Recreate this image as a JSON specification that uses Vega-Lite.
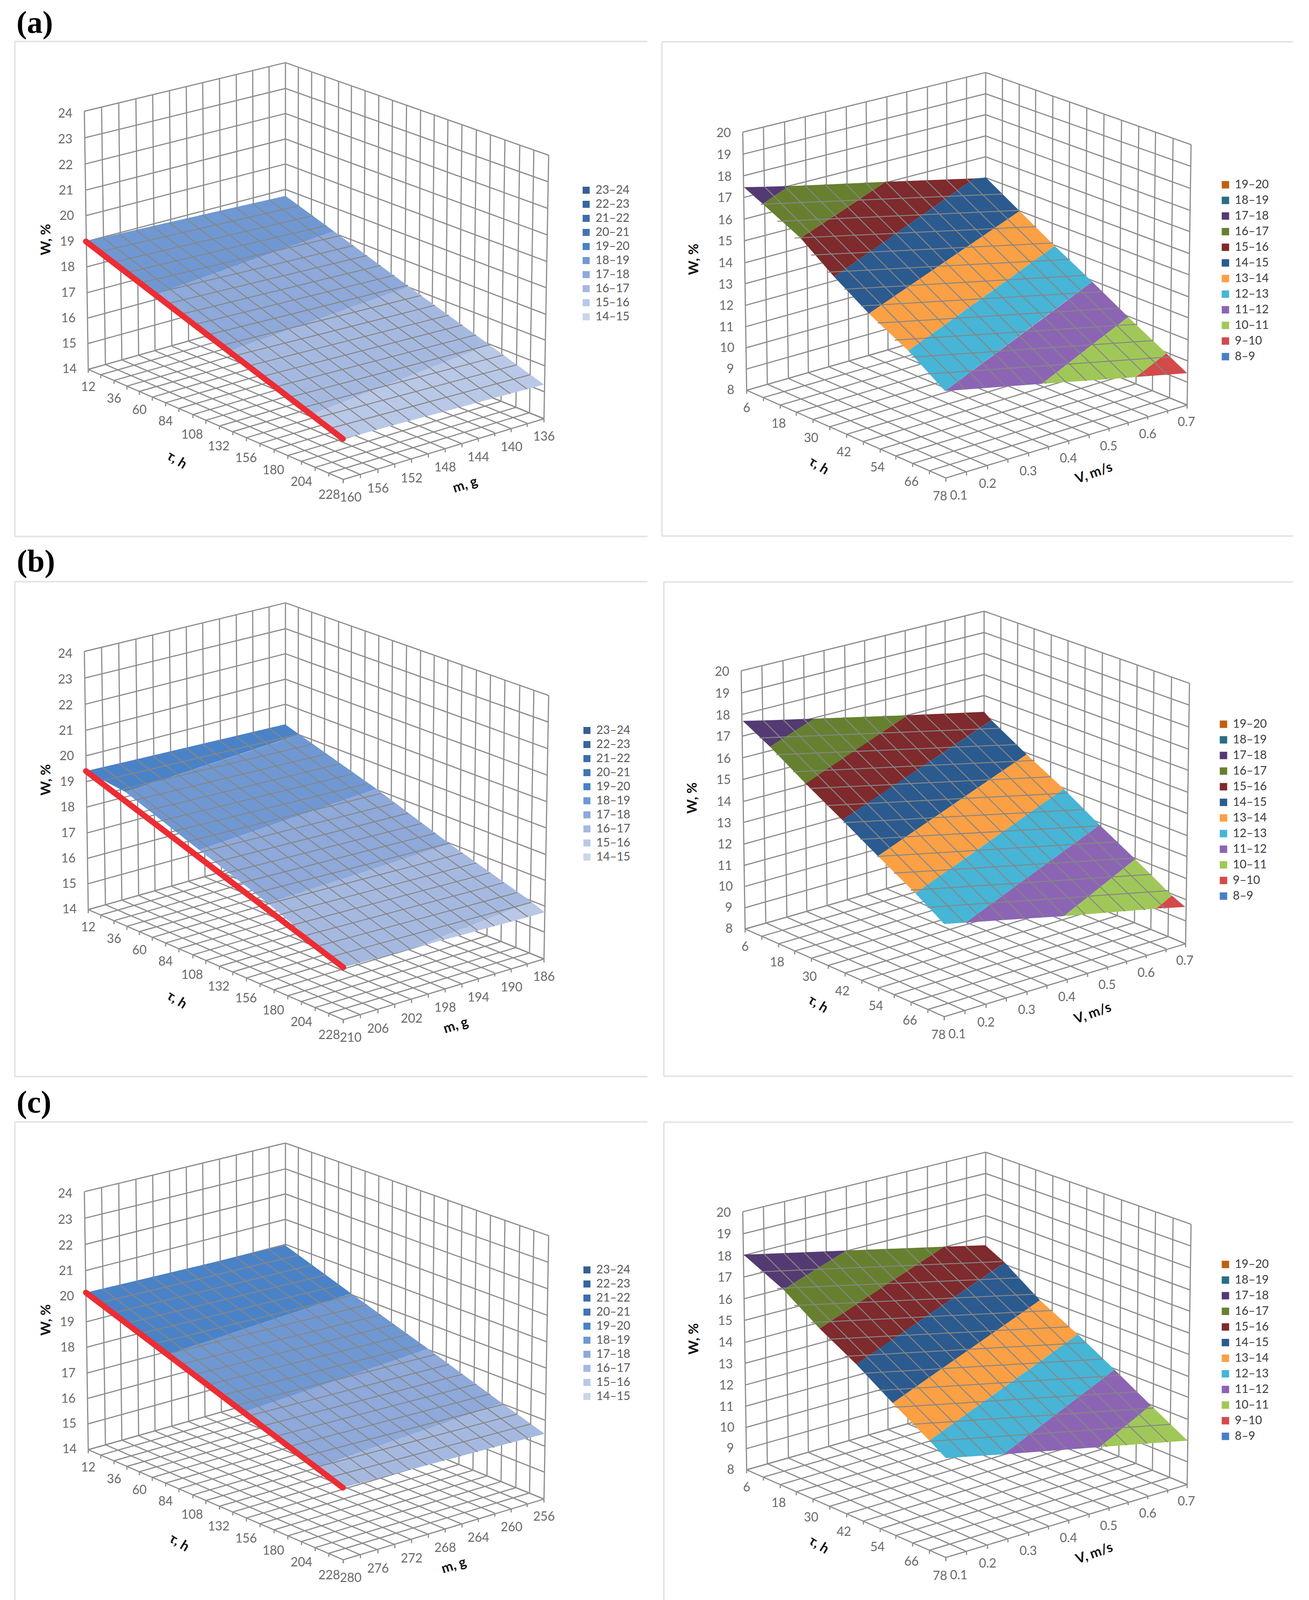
{"$schema":"https://vega.github.io/schema/vega-lite/v6.json","background":"white","padding":0,"columns":2,"spacing":0,"resolve":{"scale":{"color":"independent"},"legend":{"color":"independent"}},
"config":{"view":{"stroke":null},"legend":{"title":null,"orient":"none","symbolType":"square","symbolStrokeWidth":0,"labelFont":"Lato","labelFontSize":30,"labelOffset":9,"rowPadding":0,"padding":0,"labelLimit":200}},
"datasets":{
"fl":[{"a":38,"b":109,"c":1658,"d":109},{"a":38,"b":109,"c":38,"d":1413},{"a":38,"b":1413,"c":1658,"d":1413}],
"fra":[{"a":1695,"b":110,"c":3311,"d":110},{"a":1695,"b":110,"c":1695,"d":1412},{"a":1695,"b":1412,"c":3311,"d":1412}],
"frb":[{"a":1704,"b":114,"c":3315,"d":114},{"a":1704,"b":114,"c":1704,"d":1416},{"a":1704,"b":1416,"c":3315,"d":1416}],
"frc":[{"a":1700,"b":112,"c":3311,"d":112},{"a":1700,"b":112,"c":1700,"d":1371}],
"lw":[{"a":216,"b":293,"c":226,"d":973},{"a":260,"b":282,"c":270,"d":960},{"a":304,"b":271,"c":312,"d":948},{"a":348,"b":260,"c":355,"d":936},{"a":391,"b":250,"c":397,"d":924},{"a":434,"b":239,"c":440,"d":912},{"a":477,"b":228,"c":483,"d":899},{"a":519,"b":218,"c":525,"d":887},{"a":562,"b":207,"c":567,"d":875},{"a":605,"b":196,"c":609,"d":862},{"a":647,"b":186,"c":650,"d":851},{"a":689,"b":175,"c":691,"d":839},{"a":731,"b":165,"c":731,"d":826},
{"a":216,"b":293,"c":731,"d":165},{"a":217,"b":363,"c":731,"d":233},{"a":218,"b":432,"c":731,"d":299},{"a":219,"b":501,"c":731,"d":366},{"a":220,"b":568,"c":731,"d":432},{"a":221,"b":636,"c":731,"d":499},{"a":222,"b":703,"c":731,"d":565},{"a":223,"b":771,"c":731,"d":631},{"a":224,"b":838,"c":731,"d":696},{"a":225,"b":905,"c":731,"d":761},{"a":226,"b":973,"c":731,"d":826},
{"a":764,"b":177,"c":763,"d":839},{"a":798,"b":189,"c":797,"d":854},{"a":832,"b":202,"c":830,"d":868},{"a":867,"b":214,"c":865,"d":882},{"a":900,"b":226,"c":897,"d":895},{"a":935,"b":239,"c":931,"d":910},{"a":970,"b":252,"c":966,"d":924},{"a":1005,"b":264,"c":1000,"d":939},{"a":1041,"b":277,"c":1035,"d":953},{"a":1077,"b":290,"c":1071,"d":968},{"a":1112,"b":303,"c":1105,"d":982},{"a":1147,"b":316,"c":1140,"d":997},{"a":1183,"b":329,"c":1175,"d":1012},{"a":1220,"b":342,"c":1211,"d":1027},{"a":1256,"b":355,"c":1247,"d":1042},{"a":1293,"b":368,"c":1283,"d":1057},{"a":1331,"b":382,"c":1321,"d":1073},{"a":1367,"b":395,"c":1356,"d":1087},{"a":1405,"b":409,"c":1393,"d":1103},
{"a":731,"b":165,"c":1405,"d":409},{"a":731,"b":233,"c":1404,"d":479},{"a":731,"b":299,"c":1403,"d":549},{"a":731,"b":366,"c":1402,"d":619},{"a":731,"b":432,"c":1401,"d":689},{"a":731,"b":499,"c":1399,"d":758},{"a":731,"b":565,"c":1398,"d":828},{"a":731,"b":631,"c":1397,"d":896},{"a":731,"b":696,"c":1396,"d":964},{"a":731,"b":761,"c":1394,"d":1032},{"a":731,"b":826,"c":1393,"d":1103}],
"lf":[{"a":226,"b":973,"c":879,"d":1263},{"a":270,"b":960,"c":923,"d":1250},{"a":312,"b":948,"c":968,"d":1237},{"a":355,"b":936,"c":1011,"d":1223},{"a":397,"b":924,"c":1054,"d":1210},{"a":440,"b":912,"c":1097,"d":1196},{"a":483,"b":899,"c":1140,"d":1182},{"a":525,"b":887,"c":1183,"d":1169},{"a":567,"b":875,"c":1225,"d":1154},{"a":609,"b":862,"c":1267,"d":1140},{"a":650,"b":851,"c":1309,"d":1129},{"a":691,"b":839,"c":1350,"d":1115},{"a":731,"b":826,"c":1393,"d":1103},
{"a":731,"b":826,"c":226,"d":973},{"a":763,"b":839,"c":258,"d":987},{"a":797,"b":854,"c":292,"d":1002},{"a":830,"b":868,"c":325,"d":1017},{"a":865,"b":882,"c":357,"d":1031},{"a":897,"b":895,"c":390,"d":1046},{"a":931,"b":910,"c":424,"d":1061},{"a":966,"b":924,"c":458,"d":1076},{"a":1000,"b":939,"c":494,"d":1092},{"a":1035,"b":953,"c":527,"d":1107},{"a":1071,"b":968,"c":562,"d":1122},{"a":1105,"b":982,"c":596,"d":1137},{"a":1140,"b":997,"c":631,"d":1153},{"a":1175,"b":1012,"c":666,"d":1168},{"a":1211,"b":1027,"c":702,"d":1184},{"a":1247,"b":1042,"c":737,"d":1200},{"a":1283,"b":1057,"c":772,"d":1215},{"a":1321,"b":1073,"c":807,"d":1231},{"a":1356,"b":1087,"c":842,"d":1246},{"a":1393,"b":1103,"c":879,"d":1263}],
"rw":[{"a":1902,"b":348,"c":1912,"d":1028},{"a":1955,"b":335,"c":1965,"d":1012},{"a":2009,"b":321,"c":2019,"d":997},{"a":2062,"b":308,"c":2070,"d":982},{"a":2114,"b":294,"c":2122,"d":966},{"a":2167,"b":281,"c":2174,"d":951},{"a":2218,"b":268,"c":2224,"d":936},{"a":2271,"b":255,"c":2274,"d":922},{"a":2322,"b":242,"c":2325,"d":907},{"a":2375,"b":229,"c":2375,"d":892},{"a":2424,"b":216,"c":2425,"d":877},{"a":2475,"b":203,"c":2475,"d":862},{"a":2524,"b":191,"c":2524,"d":848},
{"a":1902,"b":348,"c":2524,"d":191},{"a":1903,"b":406,"c":2524,"d":247},{"a":1904,"b":463,"c":2524,"d":302},{"a":1905,"b":520,"c":2524,"d":358},{"a":1906,"b":577,"c":2524,"d":413},{"a":1907,"b":634,"c":2524,"d":468},{"a":1908,"b":692,"c":2524,"d":522},{"a":1909,"b":747,"c":2524,"d":576},{"a":1910,"b":804,"c":2524,"d":630},{"a":1911,"b":860,"c":2524,"d":685},{"a":1911,"b":916,"c":2524,"d":739},{"a":1912,"b":972,"c":2524,"d":793},{"a":1912,"b":1028,"c":2524,"d":848},
{"a":2567,"b":207,"c":2566,"d":866},{"a":2610,"b":222,"c":2608,"d":884},{"a":2652,"b":237,"c":2650,"d":901},{"a":2696,"b":253,"c":2693,"d":920},{"a":2739,"b":269,"c":2735,"d":938},{"a":2783,"b":284,"c":2778,"d":956},{"a":2827,"b":300,"c":2821,"d":974},{"a":2872,"b":317,"c":2865,"d":993},{"a":2916,"b":333,"c":2909,"d":1011},{"a":2959,"b":348,"c":2951,"d":1029},{"a":3004,"b":364,"c":2995,"d":1048},{"a":3050,"b":381,"c":3040,"d":1067},
{"a":2524,"b":191,"c":3050,"d":381},{"a":2524,"b":247,"c":3049,"d":438},{"a":2524,"b":302,"c":3048,"d":496},{"a":2524,"b":358,"c":3047,"d":554},{"a":2524,"b":413,"c":3047,"d":610},{"a":2524,"b":468,"c":3046,"d":668},{"a":2524,"b":522,"c":3045,"d":724},{"a":2524,"b":576,"c":3044,"d":782},{"a":2524,"b":630,"c":3043,"d":837},{"a":2524,"b":685,"c":3042,"d":895},{"a":2524,"b":739,"c":3042,"d":951},{"a":2524,"b":793,"c":3041,"d":1007},{"a":2524,"b":848,"c":3040,"d":1067}],
"rf":[{"a":1912,"b":1028,"c":2422,"d":1259},{"a":1965,"b":1012,"c":2475,"d":1243},{"a":2019,"b":997,"c":2529,"d":1227},{"a":2070,"b":982,"c":2581,"d":1210},{"a":2122,"b":966,"c":2634,"d":1193},{"a":2174,"b":951,"c":2685,"d":1176},{"a":2224,"b":936,"c":2737,"d":1161},{"a":2274,"b":922,"c":2789,"d":1145},{"a":2325,"b":907,"c":2840,"d":1127},{"a":2375,"b":892,"c":2889,"d":1112},{"a":2425,"b":877,"c":2939,"d":1096},{"a":2475,"b":862,"c":2990,"d":1080},{"a":2524,"b":848,"c":3040,"d":1067},
{"a":2524,"b":848,"c":1912,"d":1028},{"a":2566,"b":866,"c":1955,"d":1047},{"a":2608,"b":884,"c":1998,"d":1067},{"a":2650,"b":901,"c":2039,"d":1086},{"a":2693,"b":920,"c":2082,"d":1105},{"a":2735,"b":938,"c":2125,"d":1124},{"a":2778,"b":956,"c":2168,"d":1144},{"a":2821,"b":974,"c":2211,"d":1163},{"a":2865,"b":993,"c":2254,"d":1183},{"a":2909,"b":1011,"c":2294,"d":1201},{"a":2951,"b":1029,"c":2337,"d":1221},{"a":2995,"b":1048,"c":2380,"d":1240},{"a":3040,"b":1067,"c":2422,"d":1259}],
"ltl":[{"t":"24","a":167,"b":299},{"t":"23","a":167,"b":367},{"t":"22","a":168,"b":435},{"t":"21","a":169,"b":502},{"t":"20","a":171,"b":569},{"t":"19","a":172,"b":637},{"t":"18","a":173,"b":704},{"t":"17","a":175,"b":772},{"t":"16","a":175,"b":839},{"t":"15","a":177,"b":905},{"t":"14","a":178,"b":972},{"t":"12","a":226,"b":1020},{"t":"36","a":292,"b":1051},{"t":"60","a":357,"b":1080},{"t":"84","a":424,"b":1110},{"t":"108","a":492,"b":1145},{"t":"132","a":560,"b":1176},{"t":"156","a":630,"b":1207},{"t":"180","a":700,"b":1239},{"t":"204","a":772,"b":1270},{"t":"228","a":843,"b":1304}],
"rtl":[{"t":"20","a":1853,"b":351},{"t":"19","a":1854,"b":408},{"t":"18","a":1855,"b":466},{"t":"17","a":1856,"b":522},{"t":"16","a":1857,"b":580},{"t":"15","a":1857,"b":636},{"t":"14","a":1858,"b":693},{"t":"13","a":1858,"b":750},{"t":"12","a":1860,"b":806},{"t":"11","a":1860,"b":862},{"t":"10","a":1862,"b":917},{"t":"9","a":1870,"b":972},{"t":"8","a":1871,"b":1028},{"t":"6","a":1912,"b":1075},{"t":"18","a":1994,"b":1116},{"t":"30","a":2077,"b":1154},{"t":"42","a":2161,"b":1192},{"t":"54","a":2247,"b":1232},{"t":"66","a":2334,"b":1270},{"t":"78","a":2407,"b":1308},{"t":"0.1","a":2455,"b":1306},{"t":"0.2","a":2529,"b":1275},{"t":"0.3","a":2633,"b":1242},{"t":"0.4","a":2736,"b":1208},{"t":"0.5","a":2839,"b":1176},{"t":"0.6","a":2939,"b":1144},{"t":"0.7","a":3038,"b":1112}],
"ma":[{"a":263,"b":626,"c":921,"d":1144},{"a":305,"b":616,"c":964,"d":1132},{"a":348,"b":606,"c":1007,"d":1120},{"a":390,"b":596,"c":1050,"d":1108},{"a":433,"b":586,"c":1093,"d":1097},{"a":476,"b":576,"c":1135,"d":1085},{"a":518,"b":566,"c":1178,"d":1073},{"a":561,"b":556,"c":1221,"d":1061},{"a":603,"b":546,"c":1264,"d":1049},{"a":646,"b":536,"c":1307,"d":1037},{"a":689,"b":526,"c":1350,"d":1025},
{"a":255,"b":663,"c":766,"d":542},{"a":289,"b":691,"c":801,"d":568},{"a":324,"b":718,"c":836,"d":594},{"a":359,"b":745,"c":870,"d":621},{"a":393,"b":773,"c":905,"d":647},{"a":428,"b":800,"c":940,"d":673},{"a":462,"b":828,"c":975,"d":699},{"a":497,"b":855,"c":1010,"d":725},{"a":532,"b":882,"c":1045,"d":751},{"a":566,"b":910,"c":1079,"d":778},{"a":601,"b":937,"c":1114,"d":804},{"a":636,"b":964,"c":1149,"d":830},{"a":670,"b":992,"c":1184,"d":856},{"a":705,"b":1019,"c":1219,"d":882},{"a":739,"b":1047,"c":1254,"d":908},{"a":774,"b":1074,"c":1289,"d":935},{"a":809,"b":1101,"c":1323,"d":961},{"a":843,"b":1129,"c":1358,"d":987}],
"mb":[{"a":263,"b":598,"c":922,"d":1113},{"a":305,"b":588,"c":965,"d":1101},{"a":348,"b":577,"c":1008,"d":1089},{"a":390,"b":567,"c":1051,"d":1077},{"a":433,"b":557,"c":1094,"d":1065},{"a":475,"b":547,"c":1137,"d":1052},{"a":518,"b":536,"c":1180,"d":1040},{"a":560,"b":526,"c":1223,"d":1028},{"a":603,"b":516,"c":1266,"d":1016},{"a":645,"b":506,"c":1309,"d":1004},{"a":688,"b":495,"c":1352,"d":992},
{"a":255,"b":635,"c":765,"d":511},{"a":289,"b":662,"c":800,"d":537},{"a":324,"b":690,"c":835,"d":563},{"a":359,"b":717,"c":870,"d":589},{"a":393,"b":744,"c":905,"d":615},{"a":428,"b":771,"c":940,"d":641},{"a":463,"b":798,"c":975,"d":667},{"a":497,"b":826,"c":1010,"d":693},{"a":532,"b":853,"c":1045,"d":719},{"a":567,"b":880,"c":1080,"d":746},{"a":601,"b":907,"c":1115,"d":772},{"a":636,"b":934,"c":1150,"d":798},{"a":671,"b":962,"c":1185,"d":824},{"a":706,"b":989,"c":1220,"d":850},{"a":740,"b":1016,"c":1255,"d":876},{"a":775,"b":1043,"c":1290,"d":902},{"a":810,"b":1070,"c":1325,"d":928},{"a":844,"b":1098,"c":1360,"d":954}],
"mc":[{"a":263,"b":549,"c":921,"d":1061},{"a":305,"b":538,"c":964,"d":1049},{"a":348,"b":528,"c":1007,"d":1038},{"a":390,"b":517,"c":1050,"d":1026},{"a":433,"b":507,"c":1094,"d":1014},{"a":475,"b":497,"c":1137,"d":1002},{"a":518,"b":486,"c":1180,"d":990},{"a":560,"b":476,"c":1223,"d":979},{"a":603,"b":465,"c":1266,"d":967},{"a":645,"b":455,"c":1309,"d":955},{"a":688,"b":445,"c":1352,"d":943},
{"a":255,"b":586,"c":765,"d":460},{"a":289,"b":613,"c":800,"d":486},{"a":324,"b":640,"c":835,"d":512},{"a":359,"b":667,"c":870,"d":539},{"a":393,"b":694,"c":905,"d":565},{"a":428,"b":721,"c":940,"d":591},{"a":462,"b":748,"c":975,"d":617},{"a":497,"b":775,"c":1010,"d":643},{"a":532,"b":802,"c":1045,"d":669},{"a":566,"b":830,"c":1080,"d":696},{"a":601,"b":857,"c":1115,"d":722},{"a":636,"b":884,"c":1150,"d":748},{"a":670,"b":911,"c":1185,"d":774},{"a":705,"b":938,"c":1220,"d":800},{"a":739,"b":965,"c":1255,"d":826},{"a":774,"b":992,"c":1290,"d":853},{"a":809,"b":1019,"c":1325,"d":879},{"a":843,"b":1046,"c":1360,"d":905}],
"na":[{"a":1957,"b":491,"c":2472,"d":1026},{"a":2008,"b":489,"c":2523,"d":1022},{"a":2060,"b":487,"c":2575,"d":1018},{"a":2112,"b":485,"c":2627,"d":1014},{"a":2164,"b":483,"c":2679,"d":1010},{"a":2215,"b":480,"c":2730,"d":1007},{"a":2267,"b":478,"c":2782,"d":1003},{"a":2319,"b":476,"c":2834,"d":999},{"a":2370,"b":474,"c":2885,"d":995},{"a":2422,"b":472,"c":2937,"d":991},{"a":2474,"b":470,"c":2989,"d":987},
{"a":1948,"b":538,"c":2568,"d":511},{"a":1991,"b":583,"c":2611,"d":554},{"a":2034,"b":627,"c":2654,"d":597},{"a":2077,"b":672,"c":2697,"d":640},{"a":2120,"b":717,"c":2740,"d":683},{"a":2162,"b":762,"c":2782,"d":725},{"a":2205,"b":806,"c":2825,"d":768},{"a":2248,"b":851,"c":2868,"d":811},{"a":2291,"b":896,"c":2911,"d":854},{"a":2334,"b":941,"c":2954,"d":897},{"a":2377,"b":985,"c":2997,"d":940}],
"nb":[{"a":1958,"b":478,"c":2473,"d":1011},{"a":2009,"b":476,"c":2525,"d":1008},{"a":2061,"b":474,"c":2576,"d":1004},{"a":2112,"b":472,"c":2628,"d":1000},{"a":2164,"b":470,"c":2679,"d":996},{"a":2215,"b":468,"c":2730,"d":993},{"a":2267,"b":466,"c":2782,"d":989},{"a":2318,"b":464,"c":2833,"d":985},{"a":2370,"b":462,"c":2885,"d":981},{"a":2421,"b":460,"c":2936,"d":978},{"a":2473,"b":458,"c":2987,"d":974},
{"a":1949,"b":525,"c":2567,"d":499},{"a":1992,"b":569,"c":2610,"d":542},{"a":2035,"b":614,"c":2653,"d":584},{"a":2078,"b":658,"c":2696,"d":627},{"a":2121,"b":703,"c":2739,"d":670},{"a":2164,"b":748,"c":2781,"d":713},{"a":2207,"b":792,"c":2824,"d":756},{"a":2250,"b":837,"c":2867,"d":798},{"a":2293,"b":881,"c":2910,"d":841},{"a":2336,"b":926,"c":2953,"d":884},{"a":2379,"b":971,"c":2996,"d":927}],
"nc":[{"a":1956,"b":459,"c":2474,"d":993},{"a":2007,"b":457,"c":2525,"d":989},{"a":2059,"b":455,"c":2577,"d":986},{"a":2110,"b":453,"c":2628,"d":982},{"a":2162,"b":451,"c":2680,"d":978},{"a":2214,"b":448,"c":2732,"d":974},{"a":2265,"b":446,"c":2783,"d":970},{"a":2317,"b":444,"c":2835,"d":967},{"a":2368,"b":442,"c":2886,"d":963},{"a":2420,"b":440,"c":2938,"d":959},{"a":2472,"b":438,"c":2990,"d":955},
{"a":1947,"b":506,"c":2566,"d":479},{"a":1990,"b":550,"c":2609,"d":522},{"a":2034,"b":595,"c":2653,"d":565},{"a":2077,"b":640,"c":2696,"d":608},{"a":2120,"b":684,"c":2739,"d":651},{"a":2163,"b":729,"c":2782,"d":693},{"a":2206,"b":774,"c":2825,"d":736},{"a":2250,"b":819,"c":2869,"d":779},{"a":2293,"b":863,"c":2912,"d":822},{"a":2336,"b":908,"c":2955,"d":865},{"a":2379,"b":953,"c":2998,"d":908}],
"ba":[{"s":"18–19","a":220,"b":636,"d":636},{"s":"18–19","a":397,"b":594,"d":776},{"s":"18–19","a":731,"b":516,"d":654},{"s":"18–19","a":855,"b":609,"d":609},
{"s":"17–18","a":397,"b":776,"d":776},{"s":"17–18","a":586,"b":707,"d":925},{"s":"17–18","a":855,"b":609,"d":826},{"s":"17–18","a":1047,"b":755,"d":755},
{"s":"16–17","a":586,"b":925,"d":925},{"s":"16–17","a":797,"b":847,"d":1092},{"s":"16–17","a":1047,"b":755,"d":991},{"s":"16–17","a":1253,"b":908,"d":908},
{"s":"15–16","a":797,"b":1092,"d":1092},{"s":"15–16","a":878,"b":1059,"d":1156},{"s":"15–16","a":1253,"b":908,"d":1052},{"s":"15–16","a":1393,"b":1013,"d":1013}],
"bb":[{"s":"19–20","a":220,"b":608,"d":608},{"s":"19–20","a":321,"b":584,"d":663},{"s":"19–20","a":730,"b":485,"d":524},{"s":"19–20","a":767,"b":512,"d":512},
{"s":"18–19","a":321,"b":663,"d":663},{"s":"18–19","a":510,"b":599,"d":816},{"s":"18–19","a":767,"b":512,"d":725},{"s":"18–19","a":964,"b":655,"d":655},
{"s":"17–18","a":510,"b":816,"d":816},{"s":"17–18","a":686,"b":754,"d":956},{"s":"17–18","a":964,"b":655,"d":863},{"s":"17–18","a":1152,"b":800,"d":800},
{"s":"16–17","a":686,"b":956,"d":956},{"s":"16–17","a":879,"b":891,"d":1125},{"s":"16–17","a":1064,"b":829,"d":1073},{"s":"16–17","a":1152,"b":800,"d":1037},{"s":"16–17","a":1361,"b":952,"d":952},
{"s":"15–16","a":1064,"b":1073,"d":1073},{"s":"15–16","a":1361,"b":952,"d":990},{"s":"15–16","a":1395,"b":980,"d":980}],
"bc":[{"s":"19–20","a":220,"b":559,"d":559},{"s":"19–20","a":429,"b":508,"d":722},{"s":"19–20","a":730,"b":434,"d":619},{"s":"19–20","a":899,"b":561,"d":561},
{"s":"18–19","a":429,"b":722,"d":722},{"s":"18–19","a":624,"b":655,"d":874},{"s":"18–19","a":899,"b":561,"d":777},{"s":"18–19","a":1096,"b":707,"d":707},
{"s":"17–18","a":624,"b":874,"d":874},{"s":"17–18","a":810,"b":808,"d":1020},{"s":"17–18","a":1096,"b":707,"d":918},{"s":"17–18","a":1285,"b":850,"d":850},
{"s":"16–17","a":810,"b":1020,"d":1020},{"s":"16–17","a":878,"b":996,"d":1073},{"s":"16–17","a":1285,"b":850,"d":961},{"s":"16–17","a":1395,"b":931,"d":931}],
"ca":[{"s":"17–18","a":1905,"b":493,"d":493},{"s":"17–18","a":1953,"b":492,"d":537},{"s":"17–18","a":2021,"b":490,"d":490},
{"s":"16–17","a":1953,"b":537,"d":537},{"s":"16–17","a":2021,"b":490,"d":600},{"s":"16–17","a":2050,"b":489,"d":627},{"s":"16–17","a":2268,"b":479,"d":479},
{"s":"15–16","a":2050,"b":627,"d":627},{"s":"15–16","a":2136,"b":569,"d":729},{"s":"15–16","a":2268,"b":479,"d":634},{"s":"15–16","a":2495,"b":470,"d":470},
{"s":"14–15","a":2136,"b":729,"d":729},{"s":"14–15","a":2225,"b":665,"d":826},{"s":"14–15","a":2495,"b":470,"d":637},{"s":"14–15","a":2525,"b":468,"d":616},{"s":"14–15","a":2611,"b":556,"d":556},
{"s":"13–14","a":2225,"b":826,"d":826},{"s":"13–14","a":2326,"b":755,"d":924},{"s":"13–14","a":2611,"b":556,"d":714},{"s":"13–14","a":2701,"b":648,"d":648},
{"s":"12–13","a":2326,"b":924,"d":924},{"s":"12–13","a":2420,"b":855,"d":1030},{"s":"12–13","a":2701,"b":648,"d":815},{"s":"12–13","a":2797,"b":742,"d":742},
{"s":"11–12","a":2420,"b":1030,"d":1030},{"s":"11–12","a":2668,"b":841,"d":1011},{"s":"11–12","a":2797,"b":742,"d":908},{"s":"11–12","a":2889,"b":835,"d":835},
{"s":"10–11","a":2668,"b":1011,"d":1011},{"s":"10–11","a":2889,"b":835,"d":995},{"s":"10–11","a":2909,"b":855,"d":993},{"s":"10–11","a":2987,"b":931,"d":931},
{"s":"9–10","a":2909,"b":993,"d":993},{"s":"9–10","a":2987,"b":931,"d":987},{"s":"9–10","a":3040,"b":983,"d":983}],
"cb":[{"s":"17–18","a":1906,"b":480,"d":480},{"s":"17–18","a":1976,"b":478,"d":548},{"s":"17–18","a":2089,"b":474,"d":474},
{"s":"16–17","a":1976,"b":548,"d":548},{"s":"16–17","a":2067,"b":488,"d":645},{"s":"16–17","a":2089,"b":474,"d":630},{"s":"16–17","a":2328,"b":465,"d":465},
{"s":"15–16","a":2067,"b":645,"d":645},{"s":"15–16","a":2161,"b":580,"d":741},{"s":"15–16","a":2328,"b":465,"d":626},{"s":"15–16","a":2524,"b":456,"d":491},{"s":"15–16","a":2543,"b":478,"d":478},
{"s":"14–15","a":2161,"b":741,"d":741},{"s":"14–15","a":2252,"b":678,"d":836},{"s":"14–15","a":2543,"b":478,"d":631},{"s":"14–15","a":2633,"b":568,"d":568},
{"s":"13–14","a":2252,"b":836,"d":836},{"s":"13–14","a":2348,"b":768,"d":934},{"s":"13–14","a":2633,"b":568,"d":728},{"s":"13–14","a":2728,"b":659,"d":659},
{"s":"12–13","a":2348,"b":934,"d":934},{"s":"12–13","a":2422,"b":880,"d":1015},{"s":"12–13","a":2477,"b":841,"d":1011},{"s":"12–13","a":2728,"b":659,"d":823},{"s":"12–13","a":2820,"b":754,"d":754},
{"s":"11–12","a":2477,"b":1011,"d":1011},{"s":"11–12","a":2728,"b":823,"d":994},{"s":"11–12","a":2820,"b":754,"d":919},{"s":"11–12","a":2911,"b":844,"d":844},
{"s":"10–11","a":2728,"b":994,"d":994},{"s":"10–11","a":2911,"b":844,"d":979},{"s":"10–11","a":2965,"b":899,"d":974},{"s":"10–11","a":3005,"b":940,"d":940},
{"s":"9–10","a":2965,"b":974,"d":974},{"s":"9–10","a":3005,"b":940,"d":972},{"s":"9–10","a":3039,"b":970,"d":970}],
"cc":[{"s":"17–18","a":1904,"b":461,"d":461},{"s":"17–18","a":2006,"b":457,"d":553},{"s":"17–18","a":2168,"b":450,"d":450},
{"s":"16–17","a":2006,"b":553,"d":553},{"s":"16–17","a":2099,"b":494,"d":656},{"s":"16–17","a":2168,"b":450,"d":609},{"s":"16–17","a":2418,"b":440,"d":440},
{"s":"15–16","a":2099,"b":656,"d":656},{"s":"15–16","a":2193,"b":592,"d":750},{"s":"15–16","a":2418,"b":440,"d":591},{"s":"15–16","a":2523,"b":436,"d":517},{"s":"15–16","a":2573,"b":482,"d":482},
{"s":"14–15","a":2193,"b":750,"d":750},{"s":"14–15","a":2286,"b":684,"d":852},{"s":"14–15","a":2573,"b":482,"d":646},{"s":"14–15","a":2663,"b":581,"d":581},
{"s":"13–14","a":2286,"b":852,"d":852},{"s":"13–14","a":2380,"b":784,"d":951},{"s":"13–14","a":2663,"b":581,"d":742},{"s":"13–14","a":2760,"b":671,"d":671},
{"s":"12–13","a":2380,"b":951,"d":951},{"s":"12–13","a":2422,"b":920,"d":997},{"s":"12–13","a":2570,"b":811,"d":987},{"s":"12–13","a":2760,"b":671,"d":838},{"s":"12–13","a":2854,"b":764,"d":764},
{"s":"11–12","a":2570,"b":987,"d":987},{"s":"11–12","a":2816,"b":794,"d":968},{"s":"11–12","a":2854,"b":764,"d":936},{"s":"11–12","a":2947,"b":858,"d":858},
{"s":"10–11","a":2816,"b":968,"d":968},{"s":"10–11","a":2947,"b":858,"d":958},{"s":"10–11","a":3041,"b":951,"d":951}]
},
"concat":[
{"width":1690,"height":1383,"encoding":{"x":{"field":"a","type":"quantitative","axis":null,"scale":{"domain":[0,1690],"nice":false}},"y":{"field":"b","type":"quantitative","axis":null,"scale":{"domain":[0,1423],"reverse":true,"nice":false}}},
"layer":[
{"data":{"name":"fl"},"mark":{"type":"rule","stroke":"#e4e4e4","strokeWidth":4},"encoding":{"x2":{"field":"c"},"y2":{"field":"d"}}},
{"data":{"name":"lw"},"mark":{"type":"rule","stroke":"#8c8c8c","strokeWidth":3},"encoding":{"x2":{"field":"c"},"y2":{"field":"d"}}},
{"data":{"name":"lf"},"mark":{"type":"rule","stroke":"#8c8c8c","strokeWidth":3},"encoding":{"x2":{"field":"c"},"y2":{"field":"d"}}},
{"data":{"name":"lf"},"mark":{"type":"point","shape":"M0,0L0,1","filled":false,"stroke":"#8c8c8c","strokeWidth":3,"size":324,"opacity":1},"encoding":{"x":{"field":"c","type":"quantitative"},"y":{"field":"d","type":"quantitative"}}},
{"data":{"name":"ba"},"mark":{"type":"area","orient":"vertical"},"encoding":{"y2":{"field":"d"},"color":{"field":"s","type":"nominal","scale":{"domain":["23–24","22–23","21–22","20–21","19–20","18–19","17–18","16–17","15–16","14–15"],"range":["#365f91","#38669e","#3d6dad","#4474b1","#4a82c8","#6f98d3","#8ea9da","#a5b9e0","#b9c8e7","#c9d5e9"]},"legend":{"legendX":1486,"legendY":469,"symbolSize":324,"clipHeight":36,"labelColor":"#595959"}}}},
{"data":{"name":"ma"},"mark":{"type":"rule","stroke":"#868686","strokeWidth":2.5},"encoding":{"x2":{"field":"c"},"y2":{"field":"d"}}},
{"data":{"values":[{"a":220,"b":636,"c":878,"d":1156}]},"mark":{"type":"rule","stroke":"#ec2d33","strokeWidth":15,"strokeCap":"round"},"encoding":{"x2":{"field":"c"},"y2":{"field":"d"}}},
{"data":{"name":"ltl"},"mark":{"type":"text","font":"Lato","fontSize":32,"fill":"#6a6a6a"},"encoding":{"text":{"field":"t"}}},
{"data":{"values":[{"t":"160","a":898,"b":1311},{"t":"156","a":968,"b":1287},{"t":"152","a":1054,"b":1260},{"t":"148","a":1140,"b":1232},{"t":"144","a":1225,"b":1205},{"t":"140","a":1310,"b":1178},{"t":"136","a":1393,"b":1150}]},"mark":{"type":"text","font":"Lato","fontSize":32,"fill":"#6a6a6a"},"encoding":{"text":{"field":"t"}}},
{"data":{"values":[{"t":"W, %","a":118,"b":631,"r":270},{"t":"τ, h","a":453,"b":1212,"r":32},{"t":"m, g","a":1191,"b":1277,"r":342}]},"mark":{"type":"text","font":"Lato","fontWeight":"bold","fontSize":35,"fill":"#111111"},"encoding":{"text":{"field":"t"},"angle":{"field":"r","type":"quantitative","scale":null}}},
{"data":{"values":[{"t":"(a)","a":89,"b":62}]},"mark":{"type":"text","font":"Liberation Serif","fontWeight":"bold","fontSize":80,"fill":"#000000"},"encoding":{"text":{"field":"t"}}}
]},
{"width":1662,"height":1383,"encoding":{"x":{"field":"a","type":"quantitative","axis":null,"scale":{"domain":[1690,3352],"nice":false}},"y":{"field":"b","type":"quantitative","axis":null,"scale":{"domain":[0,1423],"reverse":true,"nice":false}}},
"layer":[
{"data":{"name":"fra"},"mark":{"type":"rule","stroke":"#e4e4e4","strokeWidth":4},"encoding":{"x2":{"field":"c"},"y2":{"field":"d"}}},
{"data":{"name":"rw"},"mark":{"type":"rule","stroke":"#8c8c8c","strokeWidth":3},"encoding":{"x2":{"field":"c"},"y2":{"field":"d"}}},
{"data":{"name":"rf"},"mark":{"type":"rule","stroke":"#8c8c8c","strokeWidth":3},"encoding":{"x2":{"field":"c"},"y2":{"field":"d"}}},
{"data":{"name":"rf"},"mark":{"type":"point","shape":"M0,0L0,1","filled":false,"stroke":"#8c8c8c","strokeWidth":3,"size":324,"opacity":1},"encoding":{"x":{"field":"c","type":"quantitative"},"y":{"field":"d","type":"quantitative"}}},
{"data":{"name":"ca"},"mark":{"type":"area","orient":"vertical"},"encoding":{"y2":{"field":"d"},"color":{"field":"s","type":"nominal","scale":{"domain":["19–20","18–19","17–18","16–17","15–16","14–15","13–14","12–13","11–12","10–11","9–10","8–9"],"range":["#c0600f","#2a6f82","#543a72","#66802f","#7f2a2c","#2b5a8f","#fba045","#47b5d6","#8c64b4","#a0c858","#d34a4a","#4a7fc4"]},"legend":{"legendX":1433,"legendY":453,"symbolSize":361,"clipHeight":40,"labelColor":"#3c3c3c"}}}},
{"data":{"name":"na"},"mark":{"type":"rule","stroke":"#868686","strokeWidth":2.5},"encoding":{"x2":{"field":"c"},"y2":{"field":"d"}}},
{"data":{"name":"rtl"},"mark":{"type":"text","font":"Lato","fontSize":32,"fill":"#6a6a6a"},"encoding":{"text":{"field":"t"}}},
{"data":{"values":[{"t":"W, %","a":1777,"b":683,"r":270},{"t":"τ, h","a":2097,"b":1227,"r":32},{"t":"V, m/s","a":2801,"b":1246,"r":340}]},"mark":{"type":"text","font":"Lato","fontWeight":"bold","fontSize":35,"fill":"#111111"},"encoding":{"text":{"field":"t"},"angle":{"field":"r","type":"quantitative","scale":null}}}
]},
{"width":1690,"height":1383,"encoding":{"x":{"field":"a","type":"quantitative","axis":null,"scale":{"domain":[0,1690],"nice":false}},"y":{"field":"b","type":"quantitative","axis":null,"scale":{"domain":[0,1423],"reverse":true,"nice":false}}},
"layer":[
{"data":{"name":"fl"},"mark":{"type":"rule","stroke":"#e4e4e4","strokeWidth":4},"encoding":{"x2":{"field":"c"},"y2":{"field":"d"}}},
{"data":{"name":"lw"},"mark":{"type":"rule","stroke":"#8c8c8c","strokeWidth":3},"encoding":{"x2":{"field":"c"},"y2":{"field":"d"}}},
{"data":{"name":"lf"},"mark":{"type":"rule","stroke":"#8c8c8c","strokeWidth":3},"encoding":{"x2":{"field":"c"},"y2":{"field":"d"}}},
{"data":{"name":"lf"},"mark":{"type":"point","shape":"M0,0L0,1","filled":false,"stroke":"#8c8c8c","strokeWidth":3,"size":324,"opacity":1},"encoding":{"x":{"field":"c","type":"quantitative"},"y":{"field":"d","type":"quantitative"}}},
{"data":{"name":"bb"},"mark":{"type":"area","orient":"vertical"},"encoding":{"y2":{"field":"d"},"color":{"field":"s","type":"nominal","scale":{"domain":["23–24","22–23","21–22","20–21","19–20","18–19","17–18","16–17","15–16","14–15"],"range":["#365f91","#38669e","#3d6dad","#4474b1","#4a82c8","#6f98d3","#8ea9da","#a5b9e0","#b9c8e7","#c9d5e9"]},"legend":{"legendX":1488,"legendY":469,"symbolSize":324,"clipHeight":36,"labelColor":"#595959"}}}},
{"data":{"name":"mb"},"mark":{"type":"rule","stroke":"#868686","strokeWidth":2.5},"encoding":{"x2":{"field":"c"},"y2":{"field":"d"}}},
{"data":{"values":[{"a":220,"b":608,"c":879,"d":1125}]},"mark":{"type":"rule","stroke":"#ec2d33","strokeWidth":15,"strokeCap":"round"},"encoding":{"x2":{"field":"c"},"y2":{"field":"d"}}},
{"data":{"name":"ltl"},"mark":{"type":"text","font":"Lato","fontSize":32,"fill":"#6a6a6a"},"encoding":{"text":{"field":"t"}}},
{"data":{"values":[{"t":"210","a":898,"b":1311},{"t":"206","a":968,"b":1287},{"t":"202","a":1054,"b":1260},{"t":"198","a":1140,"b":1232},{"t":"194","a":1225,"b":1205},{"t":"190","a":1310,"b":1178},{"t":"186","a":1393,"b":1150}]},"mark":{"type":"text","font":"Lato","fontSize":32,"fill":"#6a6a6a"},"encoding":{"text":{"field":"t"}}},
{"data":{"values":[{"t":"W, %","a":118,"b":631,"r":270},{"t":"τ, h","a":453,"b":1211,"r":32},{"t":"m, g","a":1167,"b":1278,"r":342}]},"mark":{"type":"text","font":"Lato","fontWeight":"bold","fontSize":35,"fill":"#111111"},"encoding":{"text":{"field":"t"},"angle":{"field":"r","type":"quantitative","scale":null}}},
{"data":{"values":[{"t":"(b)","a":92,"b":58}]},"mark":{"type":"text","font":"Liberation Serif","fontWeight":"bold","fontSize":80,"fill":"#000000"},"encoding":{"text":{"field":"t"}}}
]},
{"width":1662,"height":1383,"encoding":{"x":{"field":"a","type":"quantitative","axis":null,"scale":{"domain":[1694,3356],"nice":false}},"y":{"field":"b","type":"quantitative","axis":null,"scale":{"domain":[4,1427],"reverse":true,"nice":false}}},
"layer":[
{"data":{"name":"frb"},"mark":{"type":"rule","stroke":"#e4e4e4","strokeWidth":4},"encoding":{"x2":{"field":"c"},"y2":{"field":"d"}}},
{"data":{"name":"rw"},"mark":{"type":"rule","stroke":"#8c8c8c","strokeWidth":3},"encoding":{"x2":{"field":"c"},"y2":{"field":"d"}}},
{"data":{"name":"rf"},"mark":{"type":"rule","stroke":"#8c8c8c","strokeWidth":3},"encoding":{"x2":{"field":"c"},"y2":{"field":"d"}}},
{"data":{"name":"rf"},"mark":{"type":"point","shape":"M0,0L0,1","filled":false,"stroke":"#8c8c8c","strokeWidth":3,"size":324,"opacity":1},"encoding":{"x":{"field":"c","type":"quantitative"},"y":{"field":"d","type":"quantitative"}}},
{"data":{"name":"cb"},"mark":{"type":"area","orient":"vertical"},"encoding":{"y2":{"field":"d"},"color":{"field":"s","type":"nominal","scale":{"domain":["19–20","18–19","17–18","16–17","15–16","14–15","13–14","12–13","11–12","10–11","9–10","8–9"],"range":["#c0600f","#2a6f82","#543a72","#66802f","#7f2a2c","#2b5a8f","#fba045","#47b5d6","#8c64b4","#a0c858","#d34a4a","#4a7fc4"]},"legend":{"legendX":1428,"legendY":451,"symbolSize":361,"clipHeight":40,"labelColor":"#3c3c3c"}}}},
{"data":{"name":"nb"},"mark":{"type":"rule","stroke":"#868686","strokeWidth":2.5},"encoding":{"x2":{"field":"c"},"y2":{"field":"d"}}},
{"data":{"name":"rtl"},"mark":{"type":"text","font":"Lato","fontSize":32,"fill":"#6a6a6a"},"encoding":{"text":{"field":"t"}}},
{"data":{"values":[{"t":"W, %","a":1777,"b":683,"r":270},{"t":"τ, h","a":2099,"b":1226,"r":32},{"t":"V, m/s","a":2802,"b":1250,"r":340}]},"mark":{"type":"text","font":"Lato","fontWeight":"bold","fontSize":35,"fill":"#111111"},"encoding":{"text":{"field":"t"},"angle":{"field":"r","type":"quantitative","scale":null}}}
]},
{"width":1690,"height":1330,"encoding":{"x":{"field":"a","type":"quantitative","axis":null,"scale":{"domain":[0,1690],"nice":false}},"y":{"field":"b","type":"quantitative","axis":null,"scale":{"domain":[0,1369],"reverse":true,"nice":false}}},
"layer":[
{"data":{"values":[{"a":38,"b":109,"c":1658,"d":109},{"a":38,"b":109,"c":38,"d":1369}]},"mark":{"type":"rule","stroke":"#e4e4e4","strokeWidth":4},"encoding":{"x2":{"field":"c"},"y2":{"field":"d"}}},
{"data":{"name":"lw"},"mark":{"type":"rule","stroke":"#8c8c8c","strokeWidth":3},"encoding":{"x2":{"field":"c"},"y2":{"field":"d"}}},
{"data":{"name":"lf"},"mark":{"type":"rule","stroke":"#8c8c8c","strokeWidth":3},"encoding":{"x2":{"field":"c"},"y2":{"field":"d"}}},
{"data":{"name":"lf"},"mark":{"type":"point","shape":"M0,0L0,1","filled":false,"stroke":"#8c8c8c","strokeWidth":3,"size":324,"opacity":1},"encoding":{"x":{"field":"c","type":"quantitative"},"y":{"field":"d","type":"quantitative"}}},
{"data":{"name":"bc"},"mark":{"type":"area","orient":"vertical"},"encoding":{"y2":{"field":"d"},"color":{"field":"s","type":"nominal","scale":{"domain":["23–24","22–23","21–22","20–21","19–20","18–19","17–18","16–17","15–16","14–15"],"range":["#365f91","#38669e","#3d6dad","#4474b1","#4a82c8","#6f98d3","#8ea9da","#a5b9e0","#b9c8e7","#c9d5e9"]},"legend":{"legendX":1488,"legendY":467,"symbolSize":324,"clipHeight":36,"labelColor":"#595959"}}}},
{"data":{"name":"mc"},"mark":{"type":"rule","stroke":"#868686","strokeWidth":2.5},"encoding":{"x2":{"field":"c"},"y2":{"field":"d"}}},
{"data":{"values":[{"a":220,"b":559,"c":878,"d":1073}]},"mark":{"type":"rule","stroke":"#ec2d33","strokeWidth":15,"strokeCap":"round"},"encoding":{"x2":{"field":"c"},"y2":{"field":"d"}}},
{"data":{"name":"ltl"},"mark":{"type":"text","font":"Lato","fontSize":32,"fill":"#6a6a6a"},"encoding":{"text":{"field":"t"}}},
{"data":{"values":[{"t":"280","a":898,"b":1311},{"t":"276","a":968,"b":1287},{"t":"272","a":1054,"b":1260},{"t":"268","a":1140,"b":1232},{"t":"264","a":1225,"b":1205},{"t":"260","a":1310,"b":1178},{"t":"256","a":1393,"b":1150}]},"mark":{"type":"text","font":"Lato","fontSize":32,"fill":"#6a6a6a"},"encoding":{"text":{"field":"t"}}},
{"data":{"values":[{"t":"W, %","a":118,"b":631,"r":270},{"t":"τ, h","a":459,"b":1218,"r":32},{"t":"m, g","a":1162,"b":1278,"r":342}]},"mark":{"type":"text","font":"Lato","fontWeight":"bold","fontSize":35,"fill":"#111111"},"encoding":{"text":{"field":"t"},"angle":{"field":"r","type":"quantitative","scale":null}}},
{"data":{"values":[{"t":"(c)","a":87,"b":60}]},"mark":{"type":"text","font":"Liberation Serif","fontWeight":"bold","fontSize":80,"fill":"#000000"},"encoding":{"text":{"field":"t"}}}
]},
{"width":1662,"height":1330,"encoding":{"x":{"field":"a","type":"quantitative","axis":null,"scale":{"domain":[1690,3352],"nice":false}},"y":{"field":"b","type":"quantitative","axis":null,"scale":{"domain":[2,1371],"reverse":true,"nice":false}}},
"layer":[
{"data":{"name":"frc"},"mark":{"type":"rule","stroke":"#e4e4e4","strokeWidth":4},"encoding":{"x2":{"field":"c"},"y2":{"field":"d"}}},
{"data":{"name":"rw"},"mark":{"type":"rule","stroke":"#8c8c8c","strokeWidth":3},"encoding":{"x2":{"field":"c"},"y2":{"field":"d"}}},
{"data":{"name":"rf"},"mark":{"type":"rule","stroke":"#8c8c8c","strokeWidth":3},"encoding":{"x2":{"field":"c"},"y2":{"field":"d"}}},
{"data":{"name":"rf"},"mark":{"type":"point","shape":"M0,0L0,1","filled":false,"stroke":"#8c8c8c","strokeWidth":3,"size":324,"opacity":1},"encoding":{"x":{"field":"c","type":"quantitative"},"y":{"field":"d","type":"quantitative"}}},
{"data":{"name":"cc"},"mark":{"type":"area","orient":"vertical"},"encoding":{"y2":{"field":"d"},"color":{"field":"s","type":"nominal","scale":{"domain":["19–20","18–19","17–18","16–17","15–16","14–15","13–14","12–13","11–12","10–11","9–10","8–9"],"range":["#c0600f","#2a6f82","#543a72","#66802f","#7f2a2c","#2b5a8f","#fba045","#47b5d6","#8c64b4","#a0c858","#d34a4a","#4a7fc4"]},"legend":{"legendX":1433,"legendY":451,"symbolSize":361,"clipHeight":40,"labelColor":"#3c3c3c"}}}},
{"data":{"name":"nc"},"mark":{"type":"rule","stroke":"#868686","strokeWidth":2.5},"encoding":{"x2":{"field":"c"},"y2":{"field":"d"}}},
{"data":{"name":"rtl"},"mark":{"type":"text","font":"Lato","fontSize":32,"fill":"#6a6a6a"},"encoding":{"text":{"field":"t"}}},
{"data":{"values":[{"t":"W, %","a":1777,"b":683,"r":270},{"t":"τ, h","a":2097,"b":1226,"r":32},{"t":"V, m/s","a":2802,"b":1248,"r":340}]},"mark":{"type":"text","font":"Lato","fontWeight":"bold","fontSize":35,"fill":"#111111"},"encoding":{"text":{"field":"t"},"angle":{"field":"r","type":"quantitative","scale":null}}}
]}
]}
